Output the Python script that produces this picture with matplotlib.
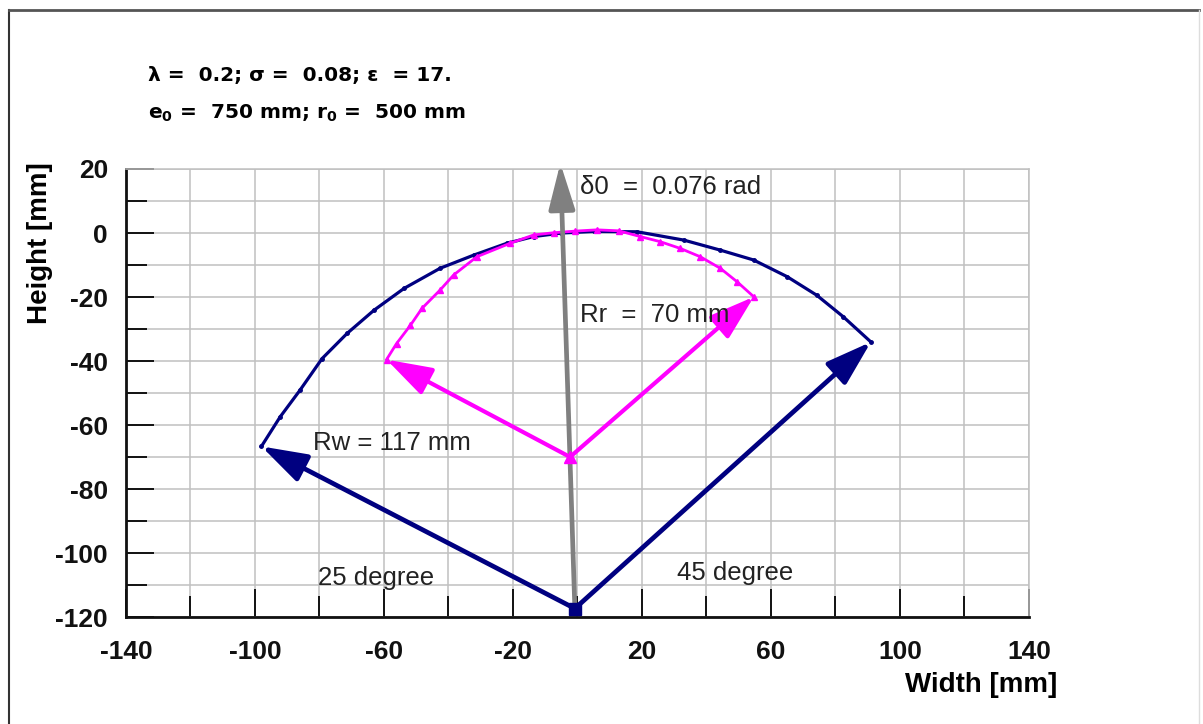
import numpy as np
import matplotlib
matplotlib.use("Agg")
import matplotlib.pyplot as plt
from matplotlib.lines import Line2D

plt.rcParams['font.family'] = ['Liberation Sans', 'DejaVu Sans']
plt.rcParams['axes.unicode_minus'] = False
plt.rcParams['mathtext.fontset'] = 'dejavusans'
plt.rcParams['mathtext.default'] = 'bf'

# wheel arc (navy), left tip -> right tip
wx = [-98, -92.2, -86, -79.2, -71.4, -63.1, -53.8, -42.6, -32.2, -21.9, -13.6, -5,
      5, 18.5, 33, 44.2, 54.6, 65, 74.2, 82.4, 91]
wy = [-66.6, -57.4, -49, -39.2, -31.3, -24.1, -17.3, -11, -6.9, -3.2, -1.1, 0,
      0.5, 0.4, -2.2, -5.3, -8.4, -13.6, -19.4, -26.1, -34]

# roll arc (magenta)
rx = [-59.2, -56.1, -51.8, -48.2, -42.6, -38.4, -31.2, -20.9, -13.6, -7.4, -0.8,
      6, 12.8, 19.5, 25.7, 31.9, 38.1, 44.3, 49.5, 54.7]
ry = [-39.5, -34.5, -28.8, -23.5, -17.8, -13.1, -7.4, -3.2, -0.6, 0.1, 0.6,
      1.0, 0.7, -1.1, -2.7, -4.8, -7.4, -11, -15.2, -19.9]

w_center = (-0.8, -117.2)
r_center = (-2.3, -69.9)
delta_tip = (-5.3, 21.8)

xticks = [-140, -100, -60, -20, 20, 60, 100, 140]
yticks = [20, 0, -20, -40, -60, -80, -100, -120]

navy = '#000080'
mag = '#ff00ff'
grey = '#808080'

fig = plt.figure(figsize=(12.03, 7.24), dpi=100)
ax = fig.add_axes([0.1047, 0.1471, 0.7506, 0.6195])
ax.set_xlim(-140, 140)
ax.set_ylim(-120, 20)
ax.set_xticks(xticks)
ax.set_xticks(np.arange(-120, 140, 40), minor=True)
ax.set_yticks(yticks)
ax.set_yticks(np.arange(-110, 20, 20), minor=True)
ax.grid(True, which='both', color='#c0c0c0', lw=1.1)
ax.set_axisbelow(True)

ax.tick_params(which='major', direction='in', length=20, width=1.4, colors='#111111',
               labelsize=19)
ax.tick_params(which='minor', direction='in', length=15, width=1.4, colors='#111111')
ax.tick_params(axis='x', which='major', pad=16)
ax.tick_params(axis='y', which='major', pad=13)
for lab in ax.get_xticklabels() + ax.get_yticklabels():
    lab.set_fontweight('bold')
for s in ['left', 'bottom']:
    ax.spines[s].set_linewidth(2)
    ax.spines[s].set_color('#111111')
for s in ['top', 'right']:
    ax.spines[s].set_linewidth(1.1)
    ax.spines[s].set_color('#c0c0c0')

# arcs
ax.plot(wx, wy, color=navy, lw=2.3, marker='o', ms=2.5, zorder=3)
ax.plot(rx, ry, color=mag, lw=2, marker='^', ms=5, zorder=4)

def arrow(start, end, color, lw, hl, hw):
    ax.annotate('', xy=end, xytext=start, annotation_clip=False,
                arrowprops=dict(arrowstyle='-|>,head_length=%g,head_width=%g' % (hl, hw),
                                mutation_scale=20, lw=lw, color=color,
                                shrinkA=0, shrinkB=0), zorder=5)

arrow(w_center, delta_tip, grey, 3.4, 1.4, 0.4)
arrow(w_center, (wx[0], wy[0]), navy, 3.4, 1.4, 0.45)
arrow(w_center, (wx[-1], wy[-1]), navy, 3.4, 1.4, 0.45)
arrow(r_center, (rx[0], ry[0]), mag, 3.0, 1.4, 0.45)
arrow(r_center, (rx[-1], ry[-1]), mag, 3.0, 1.4, 0.45)

ax.plot(*w_center, marker='s', ms=9, color=navy, zorder=6)
ax.plot(*r_center, marker='^', ms=9, color=mag, zorder=6)

tc = '#222222'
ax.text(0.8, 14.4, 'δ0  =  0.076 rad', fontsize=18.5, color=tc, va='center', zorder=7)
ax.text(0.8, -25.6, 'Rr  =  70 mm', fontsize=18.5, color=tc, va='center', zorder=7)
ax.text(-82, -65.6, 'Rw = 117 mm', fontsize=18.5, color=tc, va='center', zorder=7)
ax.text(-80.5, -107.8, '25 degree', fontsize=18.5, color=tc, va='center', zorder=7)
ax.text(30.9, -106, '45 degree', fontsize=18.5, color=tc, va='center', zorder=7)

# header lines
fig.text(0.123, 0.896, 'λ =  0.2; σ =  0.08; ε  = 17.', fontsize=14.5, fontweight='bold',
         family=['DejaVu Sans'], va='center')
fig.text(0.123, 0.844, r'e$_0$ =  750 mm; r$_0$ =  500 mm', fontsize=14.5, fontweight='bold',
         family=['DejaVu Sans'], va='center')

fig.text(0.033, 0.664, 'Height [mm]', rotation=90, fontsize=20, fontweight='bold',
         ha='center', va='center')
fig.text(0.8785, 0.054, 'Width [mm]', fontsize=20, fontweight='bold',
         ha='right', va='center')

# outer frame
fig.add_artist(Line2D([9 / 1203, 9 / 1203], [0, 1 - 10 / 724], color='#333333', lw=1.5))
fig.add_artist(Line2D([9 / 1203, 1199 / 1203], [1 - 10 / 724, 1 - 10 / 724], color='#555555', lw=2))
fig.add_artist(Line2D([1199 / 1203, 1199 / 1203], [0, 1 - 10 / 724], color='#dddddd', lw=1))

fig.savefig('out.png', dpi=100)
